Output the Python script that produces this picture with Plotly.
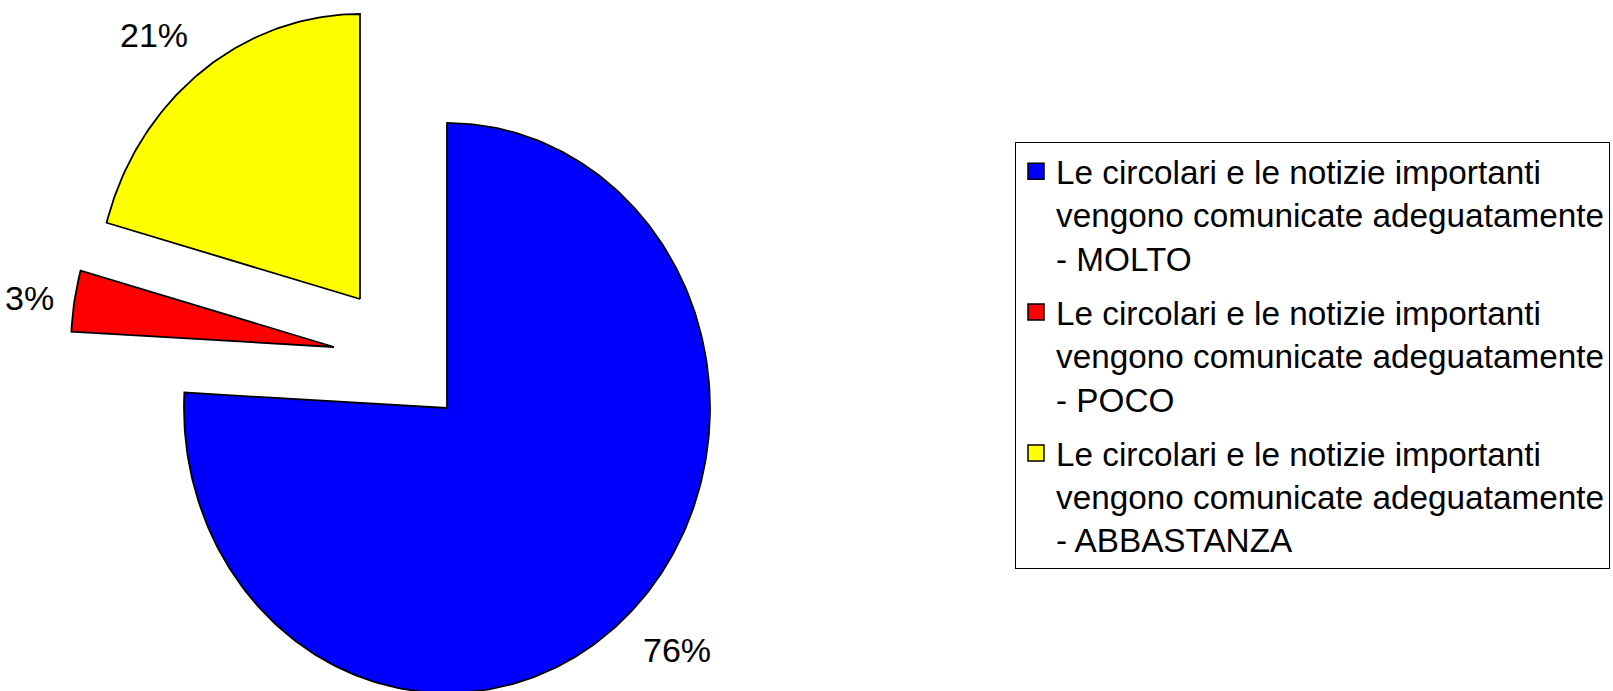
import math

import plotly.graph_objects as go

# answers to the survey question (counts read as 22 / 1 / 6 -> 76% / 3% / 21%)
categories = ["MOLTO", "POCO", "ABBASTANZA"]
counts = [22, 1, 6]
colors = ["#0000FF", "#FF0000", "#FFFF00"]
question = "Le circolari e le notizie importanti<br>vengono comunicate adeguatamente<br>- "

# drawing layout, in page pixels (axes map 1:1 onto the page)
W, H = 1613, 691
CX, CY = 447, 408          # centre of the (slightly stretched) pie
RX, RY = 263, 285          # horizontal / vertical radius
EXPLODE = {"MOLTO": (0, 0), "POCO": (-113, -61), "ABBASTANZA": (-87, -109)}
LABEL_R = 1.07
FONT = "Liberation Sans, Arial, sans-serif"

total = sum(counts)
fig = go.Figure()
annotations = []

start = 0.0  # degrees, clockwise from 12 o'clock
for cat, n, col in zip(categories, counts, colors):
    span = 360.0 * n / total
    dx, dy = EXPLODE[cat]
    cx, cy = CX + dx, CY + dy
    steps = max(int(span), 4)
    angles = [math.radians(start + span * i / steps) for i in range(steps + 1)]
    xs = [cx] + [cx + RX * math.sin(a) for a in angles] + [cx]
    ys = [cy] + [cy - RY * math.cos(a) for a in angles] + [cy]
    fig.add_trace(go.Scatter(
        x=xs, y=ys, mode="lines", fill="toself", fillcolor=col,
        line=dict(color="black", width=1.8),
        showlegend=False, hoverinfo="skip",
    ))

    # percentage label just outside the slice
    mid = math.radians(start + span / 2)
    s, c = math.sin(mid), math.cos(mid)
    xanchor = "center" if abs(s) < 0.3 else ("left" if s > 0 else "right")
    yanchor = "middle" if abs(c) < 0.3 else ("bottom" if c > 0 else "top")
    annotations.append(dict(
        x=cx + LABEL_R * RX * s, y=cy - LABEL_R * RY * c,
        xref="x", yref="y", text=f"{round(100 * n / total)}%",
        showarrow=False, xanchor=xanchor, yanchor=yanchor,
        font=dict(size=34, color="black", family=FONT),
    ))
    start += span

# legend entries with square swatches
for i, (cat, col) in enumerate(zip(categories, colors)):
    fig.add_trace(go.Scatter(
        x=[None], y=[None], mode="markers", name=question + cat,
        legendgroup=str(i),
        marker=dict(symbol="square", size=16, color=col,
                    line=dict(color="black", width=1.5)),
    ))

fig.update_layout(
    width=W, height=H,
    margin=dict(l=0, r=0, t=0, b=0, autoexpand=False),
    paper_bgcolor="white", plot_bgcolor="white",
    xaxis=dict(range=[0, W], visible=False, fixedrange=True),
    yaxis=dict(range=[H, 0], visible=False, fixedrange=True),
    annotations=annotations,
    showlegend=True,
    legend=dict(
        x=1015 / W, y=1 - 142 / H, xanchor="left", yanchor="top",
        bordercolor="black", borderwidth=1, bgcolor="white",
        font=dict(size=33.3, color="black", family=FONT),
        valign="top", tracegroupgap=8,
    ),
)

# drop the default page margin so the figure sits flush in the window
fig.write_html(
    "out.html",
    config={"displayModeBar": False},
    post_script="document.body.style.margin='0';document.body.style.overflow='hidden';",
)
